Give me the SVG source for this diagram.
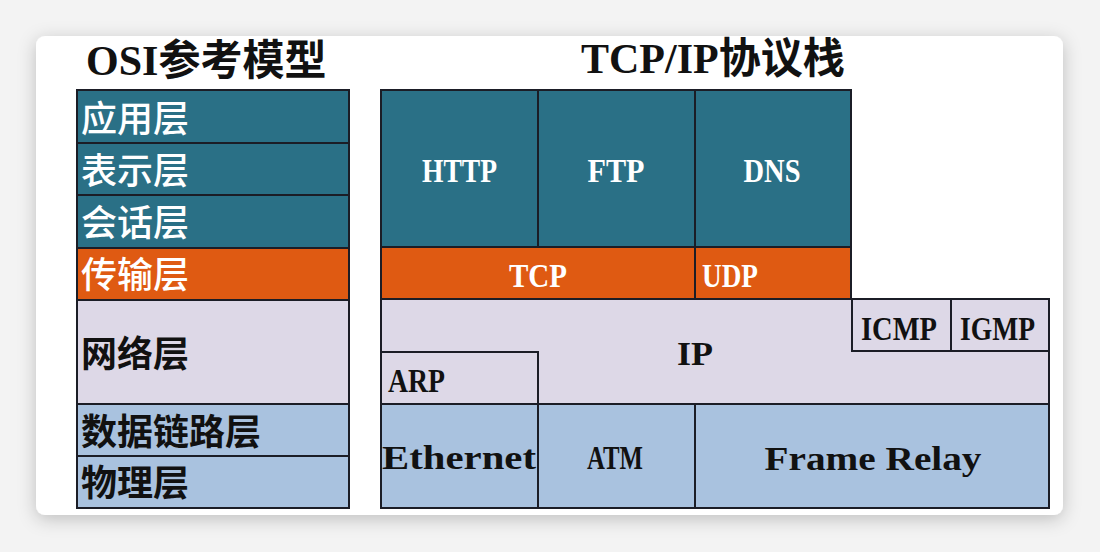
<svg xmlns="http://www.w3.org/2000/svg" width="1100" height="552" viewBox="0 0 1100 552">
<defs>
<filter id="shadow" x="-10%" y="-10%" width="120%" height="130%">
<feDropShadow dx="0" dy="4" stdDeviation="9" flood-color="#000" flood-opacity="0.22"/>
</filter>
</defs>
<style>
.cell{stroke:#1b1d26;stroke-width:2}
.teal{fill:#2a7086}
.orange{fill:#df5a12}
.lav{fill:#ddd8e7}
.blue{fill:#a9c2df}
.cn{font-family:"Noto Sans CJK SC","Noto Sans CJK JP",sans-serif;font-size:36px;font-weight:700}
.cnw{font-weight:500}
.en{font-family:"Liberation Serif","DejaVu Serif",serif;font-size:33px;font-weight:700}
.title{font-family:"Liberation Serif","Noto Sans CJK SC",serif;font-size:42px;font-weight:700;fill:#111}
.w{fill:#ffffff}
.k{fill:#111111}
</style>
<rect x="0" y="0" width="1100" height="552" fill="#f3f3f3"/>
<rect x="36" y="36" width="1027" height="479" rx="9" fill="#ffffff" filter="url(#shadow)"/>

<g id="titles">
<text class="title" x="86" y="75">OSI<tspan font-family="Noto Sans CJK SC, sans-serif">参考模型</tspan></text>
<text class="title" x="581" y="73">TCP/IP<tspan font-family="Noto Sans CJK SC, sans-serif">协议栈</tspan></text>
</g>

<g id="osi">
<g id="osi-app"><rect class="cell teal" x="77" y="90" width="272" height="53"/><text class="cn cnw w" x="81" y="132">应用层</text></g>
<g id="osi-pres"><rect class="cell teal" x="77" y="143" width="272" height="52"/><text class="cn cnw w" x="81" y="184">表示层</text></g>
<g id="osi-sess"><rect class="cell teal" x="77" y="195" width="272" height="53"/><text class="cn cnw w" x="81" y="236">会话层</text></g>
<g id="osi-trans"><rect class="cell orange" x="77" y="248" width="272" height="52"/><text class="cn cnw w" x="81" y="288">传输层</text></g>
<g id="osi-net"><rect class="cell lav" x="77" y="300" width="272" height="104"/><text class="cn k" x="81" y="367">网络层</text></g>
<g id="osi-link"><rect class="cell blue" x="77" y="404" width="272" height="52"/><text class="cn k" x="81" y="445">数据链路层</text></g>
<g id="osi-phys"><rect class="cell blue" x="77" y="456" width="272" height="52"/><text class="cn k" x="81" y="496">物理层</text></g>
</g>

<g id="tcpip">
<g id="http"><rect class="cell teal" x="381" y="90" width="157" height="157"/><text class="en w" x="459.5" y="182" text-anchor="middle" textLength="75" lengthAdjust="spacingAndGlyphs">HTTP</text></g>
<g id="ftp"><rect class="cell teal" x="538" y="90" width="157" height="157"/><text class="en w" x="616" y="182" text-anchor="middle" textLength="57" lengthAdjust="spacingAndGlyphs">FTP</text></g>
<g id="dns"><rect class="cell teal" x="695" y="90" width="156" height="157"/><text class="en w" x="772" y="182" text-anchor="middle" textLength="57" lengthAdjust="spacingAndGlyphs">DNS</text></g>
<g id="tcp"><rect class="cell orange" x="381" y="247" width="314" height="52"/><text class="en w" x="538" y="287" text-anchor="middle" textLength="58" lengthAdjust="spacingAndGlyphs">TCP</text></g>
<g id="udp"><rect class="cell orange" x="695" y="247" width="156" height="52"/><text class="en w" x="702" y="287" textLength="56" lengthAdjust="spacingAndGlyphs">UDP</text></g>
<g id="ip"><rect class="cell lav" x="381" y="299" width="668" height="105"/><text class="en k" x="695" y="365" text-anchor="middle" textLength="36" lengthAdjust="spacingAndGlyphs">IP</text></g>
<g id="icmp"><rect class="cell lav" x="852" y="299" width="99" height="52"/><text class="en k" x="899" y="340" text-anchor="middle" textLength="76" lengthAdjust="spacingAndGlyphs">ICMP</text></g>
<g id="igmp"><rect class="cell lav" x="951" y="299" width="98" height="52"/><text class="en k" x="997.5" y="340" text-anchor="middle" textLength="75" lengthAdjust="spacingAndGlyphs">IGMP</text></g>
<g id="arp"><rect class="cell lav" x="381" y="352" width="157" height="52"/><text class="en k" x="388" y="392" textLength="57" lengthAdjust="spacingAndGlyphs">ARP</text></g>
<g id="ethernet"><rect class="cell blue" x="381" y="404" width="157" height="104"/><text class="en k" x="382" y="469" font-size="34" textLength="154" lengthAdjust="spacingAndGlyphs">Ethernet</text></g>
<g id="atm"><rect class="cell blue" x="538" y="404" width="157" height="104"/><text class="en k" x="615" y="469" text-anchor="middle" textLength="56" lengthAdjust="spacingAndGlyphs">ATM</text></g>
<g id="framerelay"><rect class="cell blue" x="695" y="404" width="354" height="104"/><text class="en k" x="873" y="470" font-size="34" text-anchor="middle" textLength="217" lengthAdjust="spacingAndGlyphs">Frame Relay</text></g>
</g>

<g id="connectors"/>
</svg>
